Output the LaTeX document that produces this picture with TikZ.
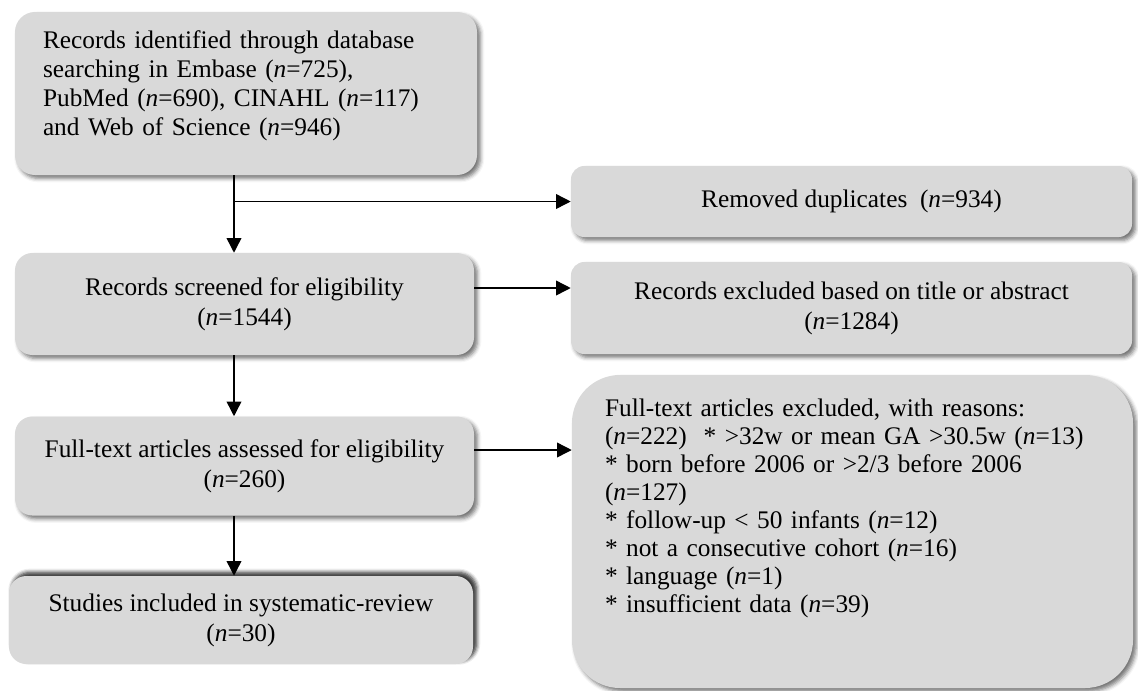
\documentclass[tikz,border=0pt]{standalone}
\usepackage{fontspec}
\setmainfont{Liberation Serif}
\usetikzlibrary{arrows.meta,shadows.blur,calc}
\definecolor{boxgray}{RGB}{217,217,217}
\newcommand{\nI}{\textit{n}}
\begin{document}
\begin{tikzpicture}[x=0.75pt,y=-0.75pt,
  box/.style={fill=boxgray, draw=none, inner sep=0pt,
    font=\fontsize{19}{22.5}\selectfont,
    blur shadow={shadow xshift=2.5pt,shadow yshift=-2.5pt,shadow blur radius=3pt,shadow opacity=55}},
  upshadow/.style={blur shadow={shadow xshift=2.5pt,shadow yshift=2.5pt,shadow blur radius=3pt,shadow opacity=55}},
  arr/.style={line width=1.1pt, -{Triangle[length=11pt,width=11pt]}}]
\useasboundingbox (0,0) rectangle (1138,690);

\node[box, rounded corners=15pt, minimum width=346.5pt, minimum height=122.25pt,
  text width=304.5pt, align=left, font=\fontsize{19}{21.75}\selectfont] (b1) at (246,93.5)
  {Records identified through database\\ searching in Embase (\nI=725),\\ PubMed (\nI=690), CINAHL (\nI=117)\\ and Web of Science (\nI=946)\\[-6.75pt]\mbox{}};

\node[box, rounded corners=13pt, minimum width=344.25pt, minimum height=76.5pt, align=center] (b2) at (244.5,304)
  {Records screened for eligibility\\(\nI=1544)};

\node[box, rounded corners=13pt, minimum width=344.25pt, minimum height=74.25pt, align=center] (b3) at (244.5,466)
  {Full-text articles assessed for eligibility\\(\nI=260)};

\node[box, upshadow, rounded corners=13pt, minimum width=348pt, minimum height=66pt, align=center] (b4) at (241,620)
  {Studies included in systematic-review\\(\nI=30)};

\node[box, rounded corners=10pt, minimum width=420.75pt, minimum height=53.25pt, align=center] (r1) at (851.5,201.5)
  {Removed duplicates\ \ (\nI=934)};

\node[box, rounded corners=10pt, minimum width=420.75pt, minimum height=69pt, align=center] (r2) at (851.5,308)
  {Records excluded based on title or abstract\\(\nI=1284)};

\node[box, rounded corners=36pt, minimum width=420.75pt, minimum height=234.75pt,
  text width=371.25pt, align=left, font=\fontsize{19}{21}\selectfont] (r3) at (852.5,531.5)
  {Full-text articles excluded, with reasons:\\
   (\nI=222)\ \ {*} >32w or mean GA >30.5w (\nI=13)\\
   {*} born before 2006 or >2/3 before 2006\\
   (\nI=127)\\
   {*} follow-up < 50 infants (\nI=12)\\
   {*} not a consecutive cohort (\nI=16)\\
   {*} language (\nI=1)\\
   {*} insufficient data (\nI=39)\\[18pt]\mbox{}};

\coordinate (vx) at (234,0);
\draw[arr] (vx |- b1.south) -- (vx |- b2.north);
\draw[arr] (vx |- r1.west) -- (r1.west);
\draw[arr] (vx |- b2.south) -- (vx |- b3.north);
\draw[arr] (vx |- b3.south) -- (vx |- b4.north);
\path (b2.east) ++(0,-16) coordinate (a2);
\draw[arr] (a2) -- (a2 -| r2.west);
\path (b3.east) ++(0,-16) coordinate (a3);
\draw[arr] (a3) -- (a3 -| r3.west);
\end{tikzpicture}
\end{document}
